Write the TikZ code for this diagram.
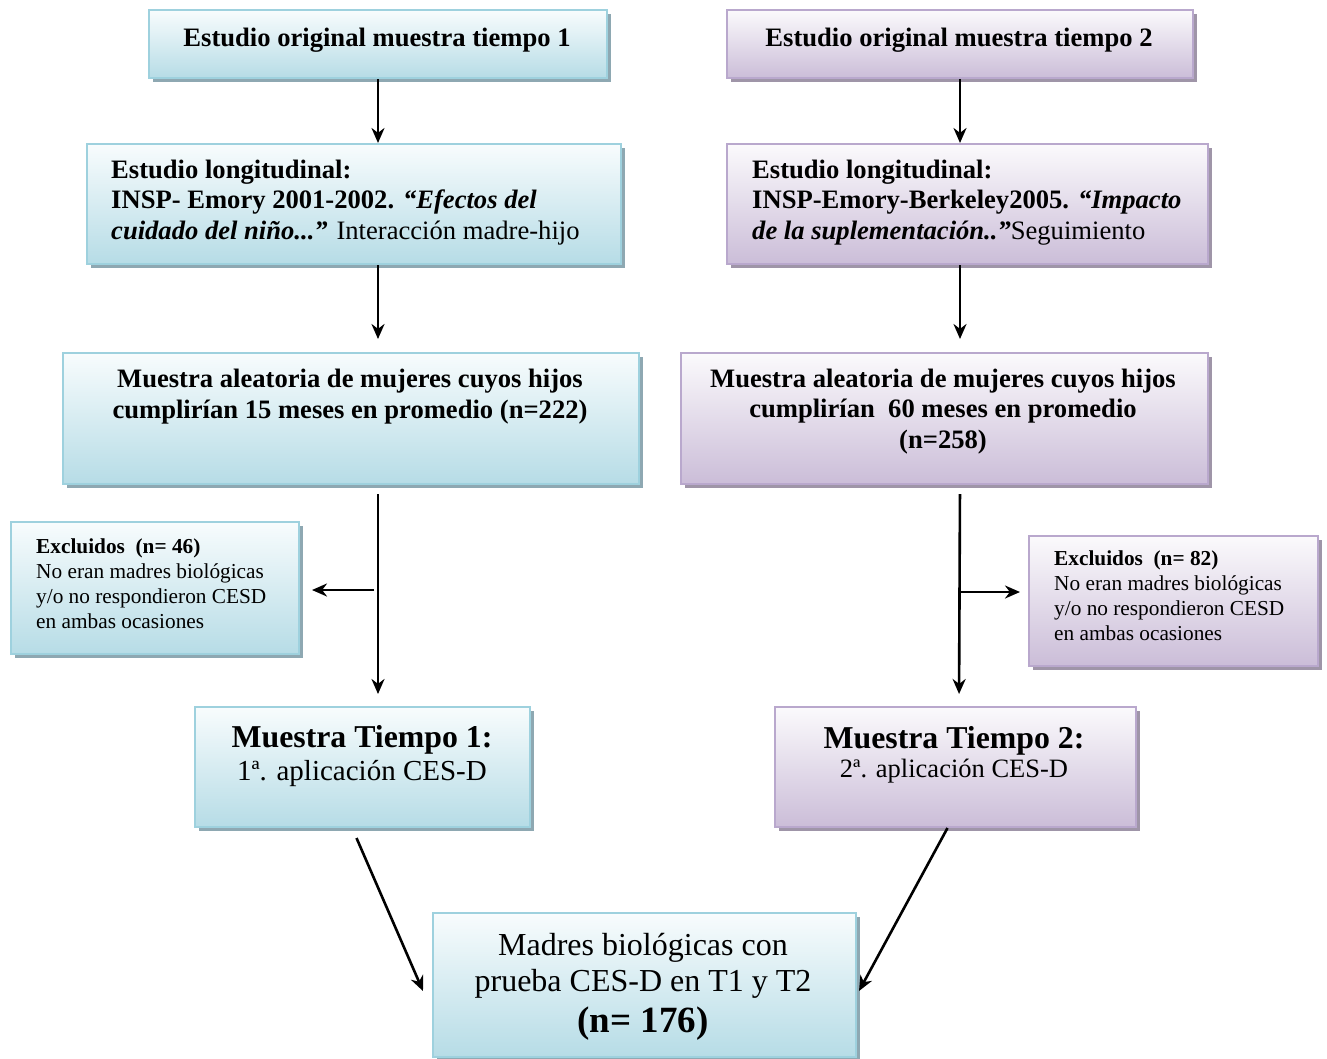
\documentclass[tikz,border=0pt]{standalone}
\usepackage{fontspec}
\setmainfont{Liberation Serif}
\usetikzlibrary{shadows,arrows.meta,calc}
\definecolor{bluetop}{HTML}{F8FCFD}
\definecolor{bluebot}{HTML}{B6DCE6}
\definecolor{blueborder}{HTML}{9ED1DE}
\definecolor{blueshadow}{HTML}{8EA8B2}
\definecolor{purtop}{HTML}{FBFAFC}
\definecolor{purbot}{HTML}{CBBDD8}
\definecolor{purborder}{HTML}{B9A8CD}
\definecolor{purshadow}{HTML}{9F95A8}
\tikzset{
  box/.style={draw, line width=2pt, inner sep=0pt, anchor=north west},
  bluebox/.style={box, draw=blueborder, top color=bluetop, bottom color=bluebot,
    drop shadow={shadow xshift=4pt, shadow yshift=-4pt, fill=blueshadow, opacity=1}},
  purbox/.style={box, draw=purborder, top color=purtop, bottom color=purbot,
    drop shadow={shadow xshift=4pt, shadow yshift=-4pt, fill=purshadow, opacity=1}},
  arr/.style={line width=2.6pt, -{Stealth[length=15pt,width=13pt]}},
  txt/.style={anchor=base, inner sep=0pt, align=center},
  ltxt/.style={anchor=base west, inner sep=0pt, align=left},
  big/.style={font=\fontsize{26.6}{30.5}\selectfont},
  small/.style={font=\fontsize{21.3}{25}\selectfont},
}
\begin{document}
\begin{tikzpicture}[x=1pt,y=-1pt]
\useasboundingbox (0,0) rectangle (1327,1058);
% boxes
\node[bluebox, minimum width=458pt, minimum height=68pt] (a1) at (148,9) {};
\node[purbox, minimum width=466pt, minimum height=68pt] (b1) at (726,9) {};
\node[bluebox, minimum width=534pt, minimum height=120pt] (a2) at (86,143) {};
\node[purbox, minimum width=481pt, minimum height=120pt] (b2) at (726,143) {};
\node[bluebox, minimum width=576pt, minimum height=131pt] (a3) at (62,352) {};
\node[purbox, minimum width=527pt, minimum height=131pt] (b3) at (680,352) {};
\node[bluebox, minimum width=288pt, minimum height=132pt] (exl) at (10,521) {};
\node[purbox, minimum width=289pt, minimum height=130pt] (exr) at (1028,535) {};
\node[bluebox, minimum width=335pt, minimum height=120pt] (mt1) at (194,706) {};
\node[purbox, minimum width=361pt, minimum height=120pt] (mt2) at (774,706) {};
\node[bluebox, minimum width=423pt, minimum height=144pt] (fin) at (432,912) {};
% texts
\node[txt, big] (ta1) at (377,46) {\textbf{Estudio original muestra tiempo 1}};
\node[txt, big] (tb1) at (959,46) {\textbf{Estudio original muestra tiempo 2}};
\node[ltxt, big] (ta2) at (111,239) {\textbf{Estudio longitudinal:}\\
  \textbf{INSP- Emory 2001-2002. \textit{“Efectos del}}\\
  \textbf{\textit{cuidado del niño...”}} Interacción madre-hijo};
\node[ltxt, big] (tb2) at (752,239) {\textbf{Estudio longitudinal:}\\
  \textbf{INSP-Emory-Berkeley2005. \textit{“Impacto}}\\
  \textbf{\textit{de la suplementación..”}}Seguimiento};
\node[txt, big] (ta3) at (350,418) {\textbf{Muestra aleatoria de mujeres cuyos hijos}\\
  \textbf{cumplirían 15 meses en promedio (n=222)}};
\node[txt, big] (tb3) at (943,448) {\textbf{Muestra aleatoria de mujeres cuyos hijos}\\
  \textbf{cumplirían\ \ 60 meses en promedio}\\ \textbf{(n=258)}};
\node[ltxt, small] (texl) at (36,628) {\textbf{Excluidos\ \ (n= 46)}\\
  No eran madres biológicas\\ y/o no respondieron CESD\\ en ambas ocasiones};
\node[ltxt, small] (texr) at (1054,640) {\textbf{Excluidos\ \ (n= 82)}\\
  No eran madres biológicas\\ y/o no respondieron CESD\\ en ambas ocasiones};
\node[txt, font=\fontsize{31.8}{34}\selectfont] (tmt1) at (362,747) {\textbf{Muestra Tiempo 1:}};
\node[txt, font=\fontsize{29}{30}\selectfont] (tmt1b) at (362,780) {1ª. aplicación CES-D};
\node[txt, font=\fontsize{31.8}{34}\selectfont] (tmt2) at (954,748) {\textbf{Muestra Tiempo 2:}};
\node[txt, font=\fontsize{26.5}{30}\selectfont] (tmt2b) at (954,777) {2ª. aplicación CES-D};
\node[txt, font=\fontsize{32}{36}\selectfont] (tfin) at (643,991) {Madres biológicas con\\ prueba CES-D en T1 y T2};
\node[txt, font=\bfseries\fontsize{37}{40}\selectfont] (tfinb) at (643,1032) {(n= 176)};
% connectors
\draw[arr] (a1.south) -- (a1.south |- a2.north);
\draw[arr] (b1.south) -- (b1.south |- b2.north);
\draw[arr, shorten >=13pt] (a2.south -| a1.south) -- (a3.north -| a1.south);
\draw[arr, shorten >=13pt] (b2.south -| b1.south) -- (b3.north -| b1.south);
\draw[arr, shorten <=9pt, shorten >=12pt] (a3.south -| a1.south) -- (mt1.north -| a1.south);
\draw[arr, shorten <=9pt, shorten >=12pt] (b3.south -| b1.south) -- ($(mt2.north -| b1.south)+(-1,0)$);
\coordinate (jl) at (374,590);
\coordinate (jr) at (958,592);
\draw[arr, shorten >=12pt] (jl) -- (jl -| exl.east);
\draw[arr, shorten >=8pt] (jr) -- (jr -| exr.west);
\draw[arr] ($(mt1.south)+(-6,10)$) -- ($(fin.west)+(-9,6)$);
\draw[arr] ($(mt2.south)+(-8,0)$) -- ($(fin.east)+(2,6)$);
\end{tikzpicture}
\end{document}
